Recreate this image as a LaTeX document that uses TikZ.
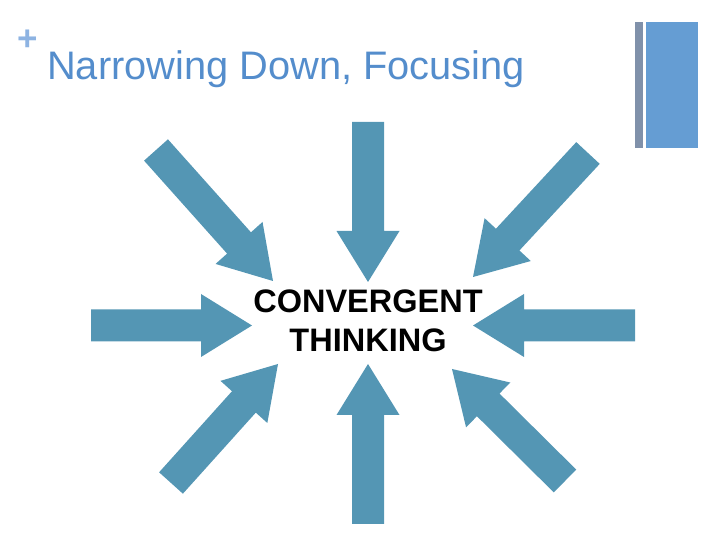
\documentclass[tikz,border=0pt]{standalone}
\usepackage{fontspec}
\setmainfont{Liberation Sans}
\usetikzlibrary{calc}
\definecolor{arrowc}{RGB}{84,150,180}
\definecolor{titlec}{RGB}{84,141,204}
\definecolor{plusc}{RGB}{141,179,226}
\definecolor{barg}{RGB}{128,145,170}
\definecolor{barb}{RGB}{101,157,211}
\tikzset{fatarrow/.style={fill=arrowc, draw=none}}
\newcommand\fatarrow[2]{%
  \coordinate (hb) at ($(#2)!51pt!(#1)$);
  \path[fatarrow] ($(#1)!16pt!90:(#2)$) -- ($(hb)!16pt!-90:(#1)$) -- ($(hb)!31.5pt!-90:(#1)$) -- (#2)
    -- ($(hb)!31.5pt!90:(#1)$) -- ($(hb)!16pt!90:(#1)$) -- ($(#1)!16pt!-90:(#2)$) -- cycle;
}
\begin{document}
\begin{tikzpicture}[x=1pt,y=1pt]
\useasboundingbox (0,0) rectangle (720,540);
% right bars
\fill[barg] (635,392) rectangle (643,518);
\fill[barb] (646,392) rectangle (698,518);
% plus and title
\node[font=\bfseries\fontsize{35}{35}\selectfont, text=plusc, inner sep=0pt] (plus) at (28,500) {+};
\node[font=\fontsize{39.8}{40}\selectfont, text=titlec, anchor=base west, inner sep=0pt] (title) at (47,460) {Narrowing Down, Focusing};
% center text
\node[font=\bfseries\fontsize{32.5}{39}\selectfont, align=center, inner sep=0pt] (center) at (368,219) {CONVERGENT\\THINKING};
% arrow endpoints
\coordinate (tR) at (368,418); \coordinate (tT) at (368,258);
\coordinate (bR) at (368,16);  \coordinate (bT) at (368,176);
\coordinate (lR) at (91,214.5); \coordinate (lT) at (252,214.5);
\coordinate (rR) at (635,214.5); \coordinate (rT) at (473,214.5);
\coordinate (tlR) at (156,390); \coordinate (tlT) at (273,259);
\coordinate (trR) at (588,387); \coordinate (trT) at (473,263);
\coordinate (blR) at (171,57);  \coordinate (blT) at (278,176);
\coordinate (brR) at (565,59);  \coordinate (brT) at (452,171);
\fatarrow{tR}{tT}
\fatarrow{bR}{bT}
\fatarrow{lR}{lT}
\fatarrow{rR}{rT}
\fatarrow{tlR}{tlT}
\fatarrow{trR}{trT}
\fatarrow{blR}{blT}
\fatarrow{brR}{brT}
\end{tikzpicture}
\end{document}
